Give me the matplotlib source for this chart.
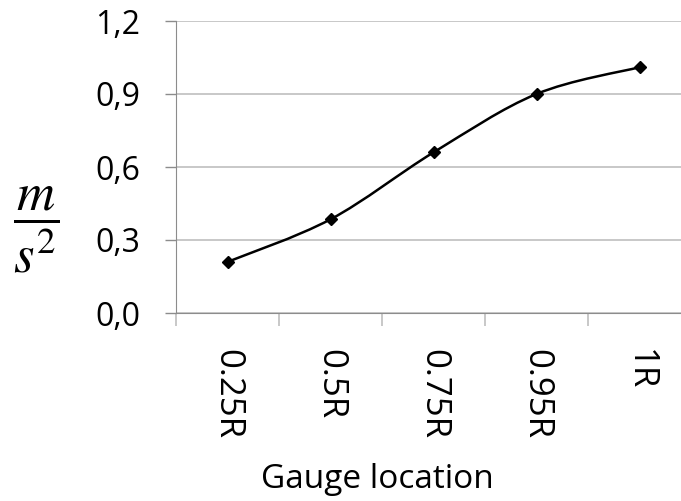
import numpy as np
import matplotlib
matplotlib.use("Agg")
import matplotlib.pyplot as plt
from matplotlib.path import Path
from matplotlib.patches import PathPatch

locations = ["0.25R", "0.5R", "0.75R", "0.95R", "1R"]
accel = [0.21, 0.385, 0.66, 0.90, 1.01]
yticks = [0.0, 0.3, 0.6, 0.9, 1.2]

plt.rcParams["font.family"] = ["Open Sans", "DejaVu Sans"]
plt.rcParams["mathtext.fontset"] = "stix"

W, H = 681, 501
fig = plt.figure(figsize=(W / 100, H / 100), dpi=100)
ax = fig.add_axes([176 / W, (H - 313) / H, 515 / W, 292 / H])

x = np.arange(len(locations)) + 0.5
y = np.array(accel)

# smoothed line: cubic bezier segments, catmull-rom style control points
verts = [(x[0], y[0])]
codes = [Path.MOVETO]
n = len(x)
for i in range(n - 1):
    x0, y0 = (x[i - 1], y[i - 1]) if i > 0 else (x[i], y[i])
    x3, y3 = (x[i + 2], y[i + 2]) if i + 2 < n else (x[i + 1], y[i + 1])
    c1 = (x[i] + (x[i + 1] - x0) / 6, y[i] + (y[i + 1] - y0) / 6)
    c2 = (x[i + 1] - (x3 - x[i]) / 6, y[i + 1] - (y3 - y[i]) / 6)
    verts += [c1, c2, (x[i + 1], y[i + 1])]
    codes += [Path.CURVE4] * 3
ax.add_patch(PathPatch(Path(verts, codes), facecolor="none", edgecolor="black", lw=1.8, zorder=3))
ax.plot(x, y, ls="none", marker="D", ms=6.5, color="black", zorder=4)

ax.set_xlim(0, n)
ax.set_ylim(0, 1.2)
ax.set_yticks(yticks)
ax.set_yticklabels([f"{v:.1f}".replace(".", ",") for v in yticks], fontsize=23)
ax.set_xticks(np.arange(n + 1))
ax.set_xticks(x, minor=True)
ax.set_xticklabels([])
ax.set_xticklabels(locations, minor=True, rotation=-90, fontsize=25, va="top", ha="center")
ax.tick_params(axis="x", which="major", length=9, color="#bfbfbf", width=1.2)
ax.tick_params(axis="x", which="minor", length=0, pad=26)
ax.tick_params(axis="y", length=8, color="#8c8c8c", width=1, pad=18)

ax.grid(axis="y", color="#bfbfbf", lw=1.2)
ax.set_axisbelow(True)
for s in ["top", "right"]:
    ax.spines[s].set_visible(False)
ax.spines["left"].set_color("#8c8c8c")
ax.spines["bottom"].set_color("#8c8c8c")

fig.text(36 / W, (H - 230) / H, r"$\dfrac{m}{s^2}$", fontsize=38, ha="center", va="center")
fig.text(377 / W, (H - 480) / H, "Gauge location", fontsize=24, ha="center", va="center")

fig.savefig("out.png", dpi=100)
